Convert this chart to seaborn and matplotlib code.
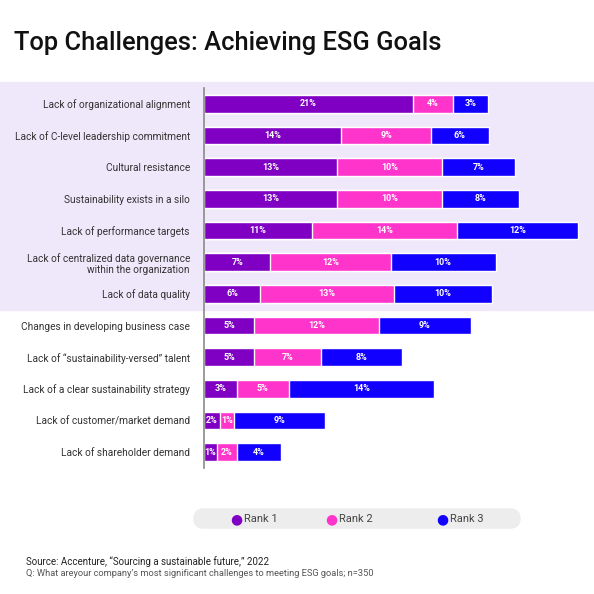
import numpy as np
import pandas as pd
import seaborn as sns
import matplotlib.pyplot as plt
from matplotlib.patches import Rectangle, FancyBboxPatch

challenges = [
    "Lack of organizational alignment",
    "Lack of C-level leadership commitment",
    "Cultural resistance",
    "Sustainability exists in a silo",
    "Lack of performance targets",
    "Lack of centralized data governance\nwithin the organization",
    "Lack of data quality",
    "Changes in developing business case",
    "Lack of \u201csustainability-versed\u201d talent",
    "Lack of a clear sustainability strategy",
    "Lack of customer/market demand",
    "Lack of shareholder demand",
]
rank1 = [20.7, 13.6, 13.2, 13.2, 10.7, 6.6, 5.6, 5.0, 5.0, 3.3, 1.6, 1.3]
rank2 = [4.0, 8.9, 10.4, 10.4, 14.4, 11.9, 13.2, 12.3, 6.6, 5.1, 1.4, 2.0]
rank3 = [3.4, 5.7, 7.2, 7.6, 11.9, 10.4, 9.7, 9.2, 8.0, 14.4, 9.0, 4.3]

colors = {"Rank 1": "#7F00C2", "Rank 2": "#FF35CB", "Rank 3": "#1200FF"}

df = pd.DataFrame({"challenge": challenges, "Rank 1": rank1, "Rank 2": rank2, "Rank 3": rank3})
df["c1"] = df["Rank 1"]
df["c2"] = df["c1"] + df["Rank 2"]
df["c3"] = df["c2"] + df["Rank 3"]

sns.set_theme(style="white")
plt.rcParams["font.family"] = ["Roboto", "DejaVu Sans"]

fig = plt.figure(figsize=(5.94, 5.94), dpi=100)

# lavender band behind the top seven rows
band = Rectangle((0, 1 - 310 / 594), 1, (310 - 82) / 594,
                 transform=fig.transFigure, color="#EFE8FB", zorder=-5)
fig.patches.append(band)

ax = fig.add_axes([203.8 / 594, 1 - 468 / 594, 1 - 203.8 / 594, 380 / 594])
ax.set_zorder(2)
ax.patch.set_alpha(0)

# stacked bars: draw cumulative totals back to front
for col, rank in [("c3", "Rank 3"), ("c2", "Rank 2"), ("c1", "Rank 1")]:
    sns.barplot(data=df, x=col, y="challenge", color=colors[rank], orient="h",
                width=0.55, saturation=1, ax=ax)

# value labels
for i, row in df.iterrows():
    start = 0
    for rank in ["Rank 1", "Rank 2", "Rank 3"]:
        v = row[rank]
        ax.text(start + v / 2, i, f"{v:.0f}%", ha="center", va="center",
                color="white", fontsize=6.5, fontweight="bold")
        start += v

ax.set_xlim(0, (594 - 203.8) / 10.1)
ax.set_ylim(11.5, -0.5)
ax.set_xlabel("")
ax.set_ylabel("")
ax.set_xticks([])
ax.tick_params(axis="y", length=0, pad=10, labelsize=7.3, labelcolor="#333333")
for s in ["top", "right", "bottom"]:
    ax.spines[s].set_visible(False)
ax.spines["left"].set_color("#8a8a8a")
ax.spines["left"].set_linewidth(1.2)

# title
fig.text(14 / 594, 1 - 50 / 594, "Top Challenges: Achieving ESG Goals",
         fontsize=18.4, fontweight="medium", color="#111111", va="baseline")

# legend pill
fig.patches.append(FancyBboxPatch((194 / 594, 1 - 528 / 594), 326 / 594, 19 / 594,
                                  boxstyle="round,pad=0,rounding_size=0.016",
                                  transform=fig.transFigure, color="#EDEDED", zorder=1))
for rank, cx in zip(["Rank 1", "Rank 2", "Rank 3"], [236, 331, 442]):
    fig.text(cx / 594, 1 - 519 / 594, "\u25cf", color=colors[rank], fontsize=10,
             ha="center", va="center", family="DejaVu Sans", zorder=3)
    fig.text((cx + 8) / 594, 1 - 519 / 594, rank, fontsize=8, color="#444444",
             va="center", zorder=3)

# footer
fig.text(26 / 594, 1 - 562 / 594, "Source: Accenture, \u201cSourcing a sustainable future,\u201d 2022",
         fontsize=7, color="#222222", va="center")
fig.text(26 / 594, 1 - 573 / 594,
         "Q: What areyour company\u2019s most significant challenges to meeting ESG goals; n=350",
         fontsize=6.7, color="#555555", va="center")

fig.savefig("out.png", dpi=100)
